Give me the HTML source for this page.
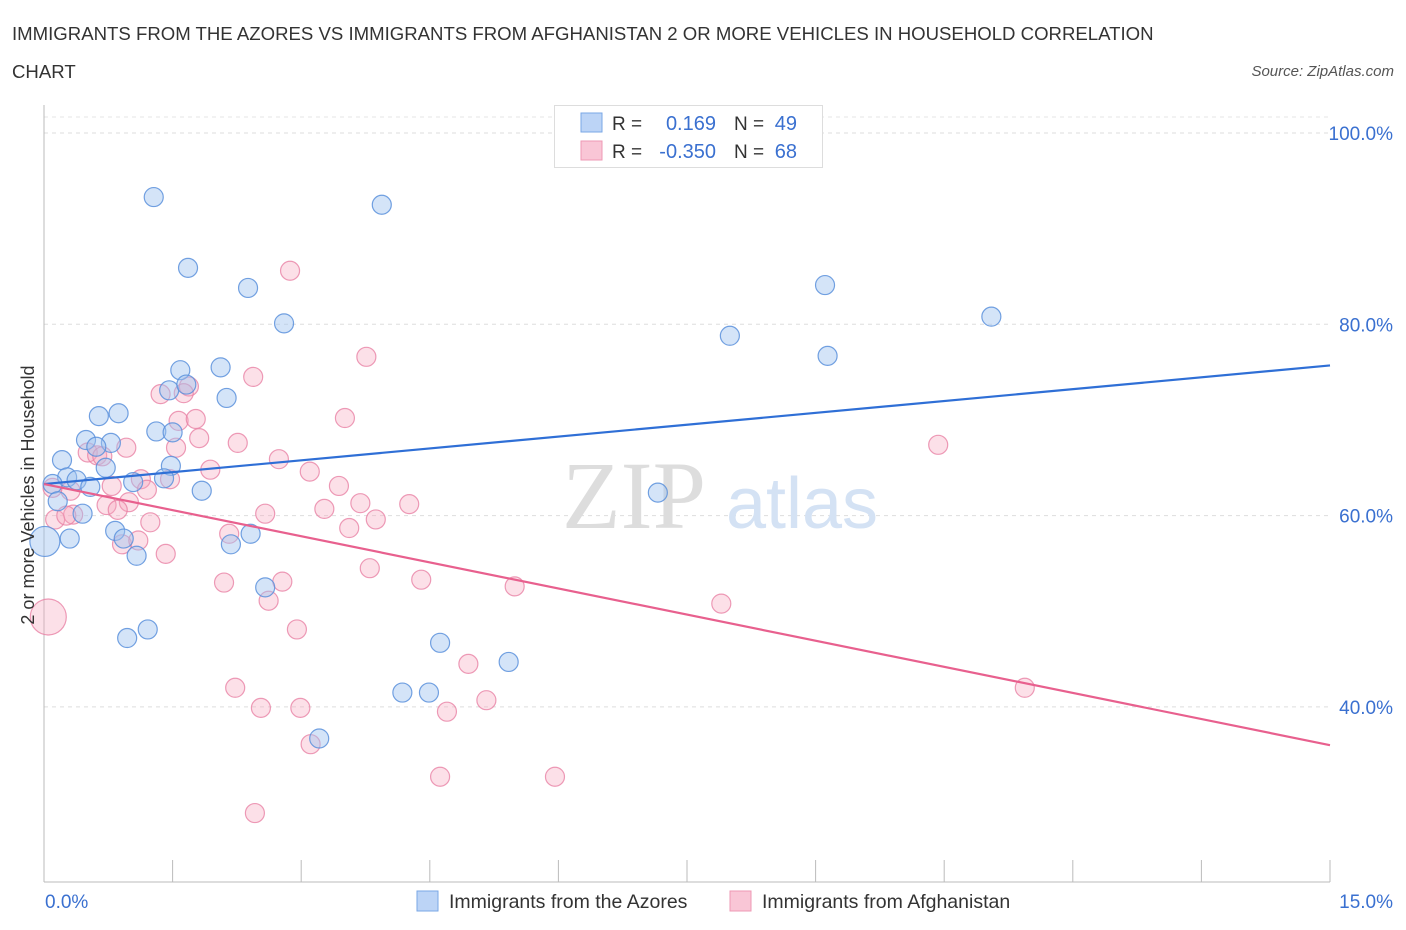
<!DOCTYPE html>
<html><head><meta charset="utf-8"><style>
body{margin:0;background:#fff;font-family:"Liberation Sans",sans-serif;}
svg{display:block}
</style></head><body>
<svg id="chart" width="1406" height="930">
<text x="12" y="40" font-size="18.6" fill="#333">IMMIGRANTS FROM THE AZORES VS IMMIGRANTS FROM AFGHANISTAN 2 OR MORE VEHICLES IN HOUSEHOLD CORRELATION</text>
<text x="12" y="78" font-size="18.6" fill="#333">CHART</text>
<text x="1394" y="76" font-size="15" fill="#555" font-style="italic" text-anchor="end">Source: ZipAtlas.com</text>
<g id="grid"></g>
<text x="634" y="528" font-size="96" font-family="Liberation Serif,serif" fill="#ddd" text-anchor="middle">ZIP</text>
<text x="802" y="528" font-size="72" fill="#d4e2f4" text-anchor="middle">atlas</text>
<g id="points"></g>
<g id="lines"></g>
<text x="34" y="495" font-size="18" fill="#333" text-anchor="middle" transform="rotate(-90 34 495)">2 or more Vehicles in Household</text>
<g>
<rect x="554.5" y="105.5" width="268" height="62" fill="#fff" stroke="#ddd"/>
<rect x="581" y="113" width="21" height="19" fill="#bcd4f6" stroke="#7aa7e6"/>
<rect x="581" y="141" width="21" height="19" fill="#f9c6d6" stroke="#ee98b4"/>
<text x="612" y="130" font-size="19" fill="#333">R =</text>
<text x="716" y="130" font-size="20" fill="#3a70d0" text-anchor="end">0.169</text>
<text x="734" y="130" font-size="19" fill="#333">N =</text>
<text x="797" y="130" font-size="20" fill="#3a70d0" text-anchor="end">49</text>
<text x="612" y="158" font-size="19" fill="#333">R =</text>
<text x="716" y="158" font-size="20" fill="#3a70d0" text-anchor="end">-0.350</text>
<text x="734" y="158" font-size="19" fill="#333">N =</text>
<text x="797" y="158" font-size="20" fill="#3a70d0" text-anchor="end">68</text>
</g>
<rect x="417" y="891" width="21" height="20" fill="#bcd4f6" stroke="#7aa7e6"/>
<text x="449" y="908" font-size="19.5" fill="#333">Immigrants from the Azores</text>
<rect x="730" y="891" width="21" height="20" fill="#f9c6d6" stroke="#ee98b4"/>
<text x="762" y="908" font-size="19.5" fill="#333">Immigrants from Afghanistan</text>
</svg>
<script>
const blueX=[1.28,3.94,1.68,2.38,2.80,9.11,11.05,8.00,9.14,1.59,2.06,1.46,1.66,2.13,0.64,0.87,1.31,1.50,0.49,0.78,0.61,0.21,0.72,1.48,0.27,0.38,1.40,1.04,0.54,1.84,0.10,7.16,0.16,0.45,0.83,0.93,0.30,2.18,2.41,1.08,0.01,2.58,0.97,1.21,4.62,5.42,4.18,4.49,3.21];
const blueY=[93.3,92.5,85.9,83.8,80.1,84.1,80.8,78.8,76.7,75.2,75.5,73.1,73.7,72.3,70.4,70.7,68.8,68.7,67.9,67.6,67.2,65.8,65.0,65.2,64.0,63.7,63.9,63.5,63.0,62.6,63.3,62.4,61.5,60.2,58.4,57.6,57.6,57.0,58.1,55.8,57.3,52.5,47.2,48.1,46.7,44.7,41.5,41.5,36.7];
const pinkX=[2.87,3.76,2.44,1.36,1.69,1.63,3.51,1.57,1.77,2.26,1.81,0.96,0.51,0.62,1.54,2.74,1.94,3.10,1.13,1.47,0.79,3.44,0.10,0.31,1.20,0.34,3.69,0.99,0.73,3.27,4.26,0.86,2.58,0.13,3.87,1.24,3.56,2.16,0.91,1.10,1.42,3.80,10.43,4.40,5.49,2.10,2.78,2.62,7.90,2.95,4.95,2.23,11.44,5.16,2.53,2.99,4.70,3.11,4.62,5.96,2.46,0.05,0.26,0.68];
const pinkY=[85.6,76.6,74.5,72.7,73.5,72.8,70.2,69.9,70.1,67.6,68.1,67.1,66.6,66.3,67.1,65.9,64.8,64.6,63.8,63.8,63.1,63.1,62.9,62.6,62.7,60.1,61.3,61.4,61.1,60.7,61.2,60.6,60.2,59.6,59.6,59.3,58.7,58.1,57.0,57.4,56.0,54.5,67.4,53.3,52.6,53.0,53.1,51.1,50.8,48.1,44.5,42.0,42.0,40.7,39.9,39.9,39.5,36.1,32.7,32.7,28.9,49.4,60.0,66.2];
const blueTrend=[63.3,75.7];
const pinkTrend=[63.3,36.0];
const yTicks=[100,80,60,40];
const yTickLabels=["100.0%","80.0%","60.0%","40.0%"];
const xTicks=[0,1.5,3,4.5,6,7.5,9,10.5,12,13.5,15];

const NS="http://www.w3.org/2000/svg";
const X0=44,X1=1330,Y100=133,PXPER=9.565;
function sx(v){return X0+(v/15)*(X1-X0);}
function sy(v){return Y100+(100-v)*PXPER;}
function mk(tag,attrs,parent){const e=document.createElementNS(NS,tag);for(const k in attrs)e.setAttribute(k,attrs[k]);parent.appendChild(e);return e;}
const grid=document.getElementById('grid');
yTicks.forEach((t,i)=>{
  const l=mk('line',{x1:44,x2:1330,y1:sy(t),y2:sy(t),stroke:'#ddd','stroke-dasharray':'4 4'},grid);
  
  
  const tx=mk('text',{x:1393,y:sy(t)+7,'font-size':19,fill:'#3a70d0','text-anchor':'end'},grid);
  tx.textContent=yTickLabels[i];
  
  
});
const topL=mk('line',{x1:44,x2:1330,y1:117,y2:117,stroke:'#e4e4e4','stroke-dasharray':'4 4'},grid);


const ya=mk('line',{x1:44,x2:44,y1:105,y2:882,stroke:'#bbb'},grid);


const xa=mk('line',{x1:44,x2:1330,y1:882,y2:882,stroke:'#bbb'},grid);


xTicks.forEach(t=>{
  const l=mk('line',{x1:sx(t),x2:sx(t),y1:860,y2:882,stroke:'#bbb'},grid);
  
  
});
const xl0=mk('text',{x:45,y:908,'font-size':19,fill:'#3a70d0'},grid);xl0.textContent='0.0%';


const xl1=mk('text',{x:1393,y:908,'font-size':19,fill:'#3a70d0','text-anchor':'end'},grid);xl1.textContent='15.0%';



const pts=document.getElementById('points');
function drawPts(xs,ys,fill,stroke,name,bigIdx,bigR){
  xs.forEach((x,i)=>{
    const r=(i===bigIdx)?bigR:9.5;
    const c=mk('circle',{cx:sx(x),cy:sy(ys[i]),r:r,fill:fill,stroke:stroke,'stroke-width':1.2},pts);
    
    
  });
}
drawPts(pinkX,pinkY,'rgba(245,165,190,0.35)','rgba(232,130,165,0.8)','afghanistan-point',61,18);
drawPts(blueX,blueY,'rgba(160,195,240,0.45)','rgba(90,145,220,0.85)','azores-point',40,15);
const lines=document.getElementById('lines');
const bl=mk('line',{x1:sx(0),y1:sy(blueTrend[0]),x2:sx(15),y2:sy(blueTrend[1]),stroke:'#2f6fd6','stroke-width':2.2},lines);


const pl=mk('line',{x1:sx(0),y1:sy(pinkTrend[0]),x2:sx(15),y2:sy(pinkTrend[1]),stroke:'#e8608e','stroke-width':2.2},lines);


</script>
</body></html>
